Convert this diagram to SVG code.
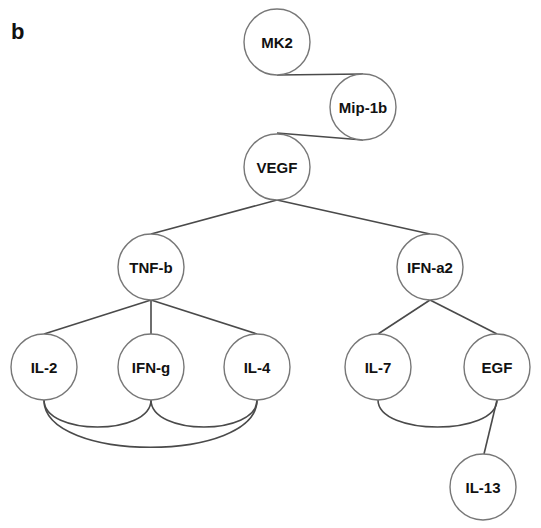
<svg xmlns="http://www.w3.org/2000/svg" width="541" height="528" viewBox="0 0 541 528">
<style>
.n circle{fill:#fff;stroke:#777;stroke-width:1.4}
.n text{font-family:"Liberation Sans",Arial,sans-serif;font-weight:bold;font-size:15px;fill:#111;text-anchor:middle}
.e path,.e line{fill:none;stroke:#4a4a4a;stroke-width:1.6}
.lbl{font-family:"Liberation Sans",Arial,sans-serif;font-weight:bold;font-size:22px;fill:#111}
</style>
<rect width="541" height="528" fill="#fff"/>
<text class="lbl" x="11" y="39">b</text>
<g id="connectors" class="e">
<line x1="277" y1="75" x2="363" y2="74"/>
<line x1="363" y1="140" x2="277" y2="133"/>
<line x1="277" y1="200" x2="151" y2="234"/>
<line x1="277" y1="200" x2="430" y2="234"/>
<line x1="151" y1="300" x2="44" y2="334"/>
<line x1="151" y1="300" x2="151" y2="334"/>
<line x1="151" y1="300" x2="257" y2="334"/>
<line x1="430" y1="300" x2="378" y2="334"/>
<line x1="430" y1="300" x2="497" y2="334"/>
<line x1="497" y1="400" x2="484" y2="454"/>
<path d="M44,400 C44,436 151,436 151,400"/>
<path d="M151,400 C151,436 257,436 257,400"/>
<path d="M44,400 C44,463 257,463 257,400"/>
<path d="M378,400 C378,436 497,436 497,400"/>
</g>
<g id="MK2" class="n"><circle cx="277" cy="42" r="33"/><text x="277" y="47.5">MK2</text></g>
<g id="Mip-1b" class="n"><circle cx="363" cy="107" r="33"/><text x="363" y="112.5">Mip-1b</text></g>
<g id="VEGF" class="n"><circle cx="277" cy="167" r="33"/><text x="277" y="172.5">VEGF</text></g>
<g id="TNF-b" class="n"><circle cx="151" cy="267" r="33"/><text x="151" y="272.5">TNF-b</text></g>
<g id="IFN-a2" class="n"><circle cx="430" cy="267" r="33"/><text x="430" y="272.5">IFN-a2</text></g>
<g id="IL-2" class="n"><circle cx="44" cy="367" r="33"/><text x="44" y="372.5">IL-2</text></g>
<g id="IFN-g" class="n"><circle cx="151" cy="367" r="33"/><text x="151" y="372.5">IFN-g</text></g>
<g id="IL-4" class="n"><circle cx="257" cy="367" r="33"/><text x="257" y="372.5">IL-4</text></g>
<g id="IL-7" class="n"><circle cx="378" cy="367" r="33"/><text x="378" y="372.5">IL-7</text></g>
<g id="EGF" class="n"><circle cx="497" cy="367" r="33"/><text x="497" y="372.5">EGF</text></g>
<g id="IL-13" class="n"><circle cx="483" cy="487" r="33"/><text x="483" y="492.5">IL-13</text></g>
</svg>
